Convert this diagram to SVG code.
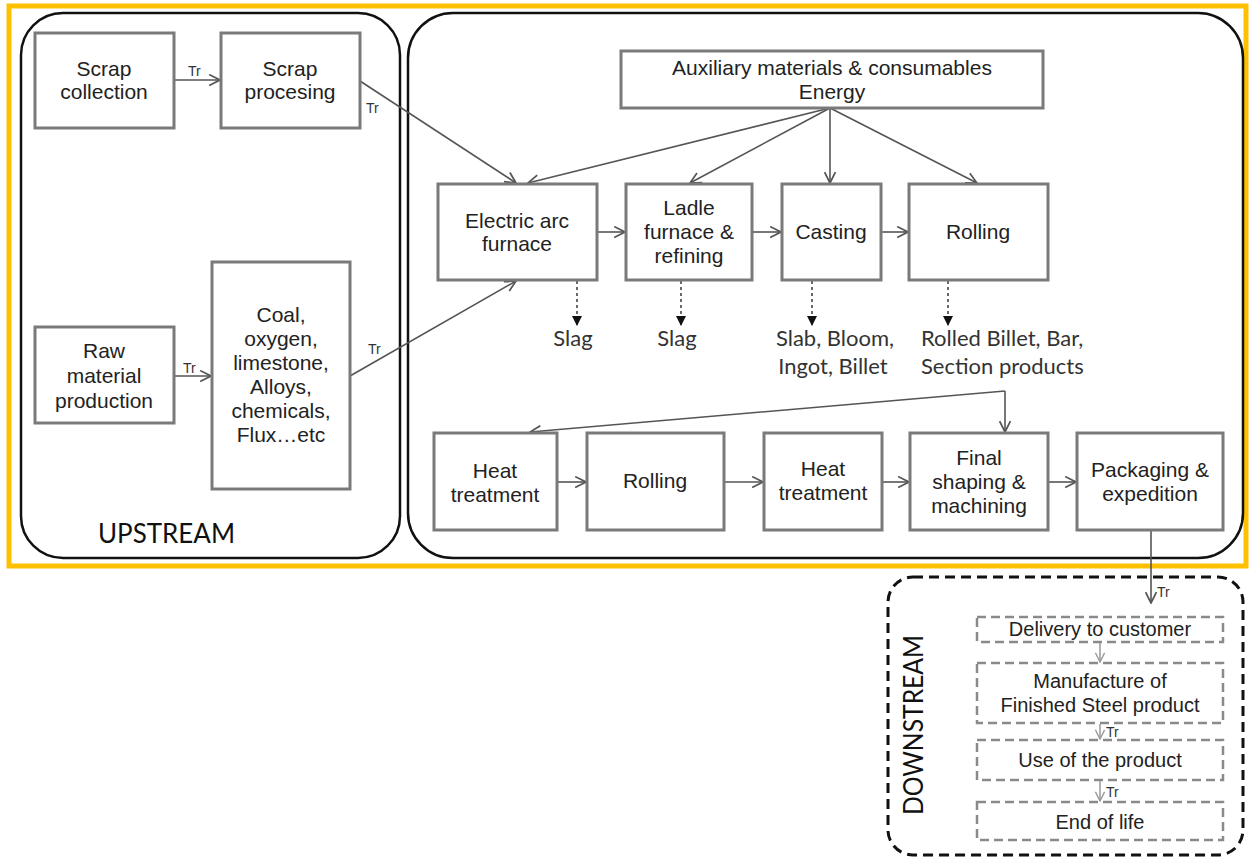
<svg xmlns="http://www.w3.org/2000/svg" width="1250" height="857" viewBox="0 0 1250 857">
<style>
.box{fill:#fff;stroke:#7a7a7a;stroke-width:3}
.dbox{fill:#fff;stroke:#8a8a8a;stroke-width:2.5;stroke-dasharray:9 5}
.t{font-family:"Liberation Sans",Arial,sans-serif;font-size:21px;fill:#222;text-anchor:middle}
.tr{font-family:"Liberation Sans",Arial,sans-serif;font-size:14px;fill:#333}
.c{font-family:Lato,"Open Sans",sans-serif;font-size:22px;fill:#333}
.big{font-family:Lato,"Open Sans",sans-serif;font-size:26px;fill:#111}
.ln{fill:none;stroke:#555;stroke-width:1.6}
.dot{fill:none;stroke:#444;stroke-width:1.6;stroke-dasharray:3 3}
</style>
<defs>
<marker id="a" viewBox="0 0 12 12" refX="11" refY="6" markerWidth="13" markerHeight="13" markerUnits="userSpaceOnUse" orient="auto"><path d="M1,1 L11,6 L1,11" fill="none" stroke="#555" stroke-width="1.6"/></marker>
<marker id="f" viewBox="0 0 10 10" refX="9" refY="5" markerWidth="10" markerHeight="10" markerUnits="userSpaceOnUse" orient="auto"><path d="M0,0 L10,5 L0,10 Z" fill="#111"/></marker>
<marker id="g" viewBox="0 0 12 12" refX="11" refY="6" markerWidth="11" markerHeight="11" markerUnits="userSpaceOnUse" orient="auto"><path d="M1,1 L11,6 L1,11" fill="none" stroke="#999" stroke-width="1.5"/></marker>
</defs>
<rect width="1250" height="857" fill="#fff"/>
<rect x="9" y="6" width="1237" height="560" fill="none" stroke="#FFC000" stroke-width="5"/>
<g id="upstream">
<rect x="21" y="13" width="379" height="545" rx="42" fill="none" stroke="#111" stroke-width="2.5"/>
<text class="big" x="98" y="543" textLength="137" lengthAdjust="spacingAndGlyphs">UPSTREAM</text>
</g>
<g id="main">
<rect x="408" y="13" width="835" height="545" rx="45" fill="none" stroke="#111" stroke-width="2.5"/>
</g>
<g id="downstream">
<rect x="888" y="577" width="355" height="278" rx="25" fill="none" stroke="#111" stroke-width="3" stroke-dasharray="10 6"/>
<text class="big" transform="translate(923,815) rotate(-90)" textLength="180" lengthAdjust="spacingAndGlyphs">DOWNSTREAM</text>
</g>
<g id="connectors">
<line class="ln" x1="174" y1="80" x2="220" y2="80" marker-end="url(#a)"/>
<line class="ln" x1="174" y1="376" x2="211" y2="376" marker-end="url(#a)"/>
<line class="ln" x1="360" y1="81" x2="516" y2="183" marker-end="url(#a)"/>
<line class="ln" x1="350" y1="376" x2="516" y2="281" marker-end="url(#a)"/>
<line class="ln" x1="830" y1="108" x2="528" y2="183" marker-end="url(#a)"/>
<line class="ln" x1="830" y1="108" x2="690" y2="183" marker-end="url(#a)"/>
<line class="ln" x1="830" y1="108" x2="830" y2="183" marker-end="url(#a)"/>
<line class="ln" x1="830" y1="108" x2="977" y2="183" marker-end="url(#a)"/>
<line class="ln" x1="597" y1="232" x2="625" y2="232" marker-end="url(#a)"/>
<line class="ln" x1="752" y1="232" x2="781" y2="232" marker-end="url(#a)"/>
<line class="ln" x1="881" y1="232" x2="908" y2="232" marker-end="url(#a)"/>
<line class="dot" x1="577" y1="281" x2="577" y2="325" marker-end="url(#f)"/>
<line class="dot" x1="681" y1="281" x2="681" y2="325" marker-end="url(#f)"/>
<line class="dot" x1="812" y1="281" x2="812" y2="325" marker-end="url(#f)"/>
<line class="dot" x1="948" y1="281" x2="948" y2="325" marker-end="url(#f)"/>
<polyline class="ln" points="1005,391 1005,432" marker-end="url(#a)"/>
<line class="ln" x1="1005" y1="391" x2="530" y2="432" marker-end="url(#a)"/>
<line class="ln" x1="557" y1="482" x2="586" y2="482" marker-end="url(#a)"/>
<line class="ln" x1="724" y1="482" x2="763" y2="482" marker-end="url(#a)"/>
<line class="ln" x1="882" y1="482" x2="909" y2="482" marker-end="url(#a)"/>
<line class="ln" x1="1048" y1="482" x2="1076" y2="482" marker-end="url(#a)"/>
<line class="ln" x1="1151" y1="530" x2="1151" y2="603" marker-end="url(#a)"/>
<line stroke="#999" stroke-width="1.5" x1="1100" y1="643" x2="1100" y2="662" marker-end="url(#g)"/>
<line stroke="#999" stroke-width="1.5" x1="1100" y1="724" x2="1100" y2="739" marker-end="url(#g)"/>
<line stroke="#999" stroke-width="1.5" x1="1100" y1="781" x2="1100" y2="801" marker-end="url(#g)"/>
<text class="tr" x="188" y="76">Tr</text>
<text class="tr" x="366" y="113">Tr</text>
<text class="tr" x="183" y="373">Tr</text>
<text class="tr" x="368" y="354">Tr</text>
<text class="tr" x="1157" y="597">Tr</text>
<text class="tr" x="1106" y="737">Tr</text>
<text class="tr" x="1106" y="797">Tr</text>
</g>
<g id="scrap-collection"><rect class="box" x="35" y="33" width="139" height="95"/><text class="t" x="104" y="76">Scrap</text><text class="t" x="104" y="99">collection</text></g>
<g id="scrap-processing"><rect class="box" x="221" y="33" width="139" height="95"/><text class="t" x="290" y="76">Scrap</text><text class="t" x="290" y="99">procesing</text></g>
<g id="raw-material"><rect class="box" x="35" y="327" width="139" height="96"/><text class="t" x="104" y="358">Raw</text><text class="t" x="104" y="383">material</text><text class="t" x="104" y="408">production</text></g>
<g id="coal"><rect class="box" x="212" y="262" width="138" height="227"/>
<text class="t" x="281" y="322">Coal,</text><text class="t" x="281" y="346">oxygen,</text><text class="t" x="281" y="370">limestone,</text><text class="t" x="281" y="394">Alloys,</text><text class="t" x="281" y="418">chemicals,</text><text class="t" x="281" y="442">Flux…etc</text></g>
<g id="auxiliary"><rect class="box" x="621" y="51" width="422" height="57"/><text class="t" x="832" y="75">Auxiliary materials &amp; consumables</text><text class="t" x="832" y="99">Energy</text></g>
<g id="eaf"><rect class="box" x="438" y="184" width="159" height="96"/><text class="t" x="517" y="228">Electric arc</text><text class="t" x="517" y="251">furnace</text></g>
<g id="ladle"><rect class="box" x="626" y="184" width="126" height="96"/><text class="t" x="689" y="215">Ladle</text><text class="t" x="689" y="239">furnace &amp;</text><text class="t" x="689" y="263">refining</text></g>
<g id="casting"><rect class="box" x="782" y="184" width="99" height="96"/><text class="t" x="831" y="239">Casting</text></g>
<g id="rolling1"><rect class="box" x="909" y="184" width="139" height="96"/><text class="t" x="978" y="239">Rolling</text></g>
<g id="outputs">
<text class="c" x="573" y="346" text-anchor="middle">Slag</text>
<text class="c" x="677" y="346" text-anchor="middle">Slag</text>
<text class="c" x="835" y="346" text-anchor="middle">Slab, Bloom,</text>
<text class="c" x="833" y="374" text-anchor="middle">Ingot, Billet</text>
<text class="c" x="921" y="346">Rolled Billet, Bar,</text>
<text class="c" x="921" y="374">Section products</text>
</g>
<g id="heat1"><rect class="box" x="434" y="433" width="123" height="97"/><text class="t" x="495" y="478">Heat</text><text class="t" x="495" y="502">treatment</text></g>
<g id="rolling2"><rect class="box" x="587" y="433" width="137" height="97"/><text class="t" x="655" y="488">Rolling</text></g>
<g id="heat2"><rect class="box" x="764" y="433" width="118" height="97"/><text class="t" x="823" y="476">Heat</text><text class="t" x="823" y="500">treatment</text></g>
<g id="final"><rect class="box" x="910" y="433" width="138" height="97"/><text class="t" x="979" y="465">Final</text><text class="t" x="979" y="489">shaping &amp;</text><text class="t" x="979" y="513">machining</text></g>
<g id="packaging"><rect class="box" x="1077" y="433" width="146" height="97"/><text class="t" x="1150" y="477">Packaging &amp;</text><text class="t" x="1150" y="501">expedition</text></g>
<g id="delivery"><rect class="dbox" x="977" y="617" width="246" height="25"/><text class="t" x="1100" y="636" style="font-size:20px">Delivery to customer</text></g>
<g id="manufacture"><rect class="dbox" x="977" y="663" width="246" height="60"/><text class="t" x="1100" y="688" style="font-size:20px">Manufacture of</text><text class="t" x="1100" y="712" style="font-size:20px">Finished Steel product</text></g>
<g id="use"><rect class="dbox" x="977" y="740" width="246" height="40"/><text class="t" x="1100" y="767" style="font-size:20px">Use of the product</text></g>
<g id="eol"><rect class="dbox" x="977" y="802" width="246" height="38"/><text class="t" x="1100" y="829" style="font-size:20px">End of life</text></g>
</svg>
